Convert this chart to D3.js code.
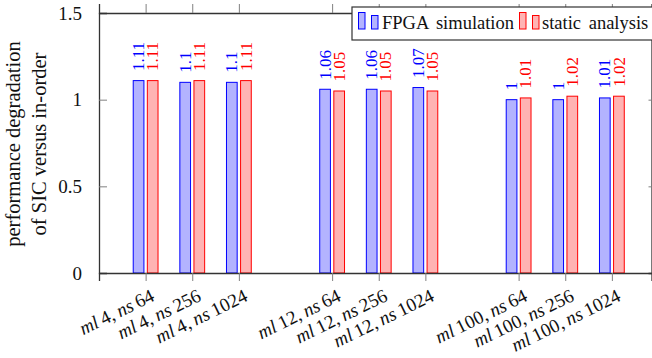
<!DOCTYPE html>
<html>
<head>
<meta charset="utf-8">
<script src="https://cdn.jsdelivr.net/npm/d3@7"></script>
<style>
  html, body { margin: 0; padding: 0; background: #fff; }
  svg { display: block; }
</style>
</head>
<body>
<div id="chart"></div>
<script>
// ---- data ----
const categories = [
  ["4", "64"], ["4", "256"], ["4", "1024"],
  ["12", "64"], ["12", "256"], ["12", "1024"],
  ["100", "64"], ["100", "256"], ["100", "1024"]
];
const fpgaSimulation = [1.11, 1.10, 1.10, 1.06, 1.06, 1.07, 1.00, 1.00, 1.01];
const staticAnalysis = [1.11, 1.11, 1.11, 1.05, 1.05, 1.05, 1.01, 1.02, 1.02];
const yTicks = [0, 0.5, 1, 1.5];
const seriesNames = ["FPGA simulation", "static analysis"];
const yLabelLines = ["performance degradation", "of SIC versus in-order"];

// ---- layout ----
const W = 652, H = 358;
const M = { left: 99, right: 651.5, top: 13, bottom: 273 };
const FONT = '"Liberation Serif"';
const blueStroke = "#0000ff", blueFill = "#b3b3ff";
const redStroke = "#ff0000", redFill = "#ffb3b3";
const axisColor = "#333";
const tickColor = "#808080";

const svg = d3.select("#chart").append("svg").attr("width", W).attr("height", H)
  .style("font-family", FONT);

// category position: groups of three separated by an empty slot
const pos = (i) => i + 1 + Math.floor(i / 3);
const positions = categories.map((c, i) => pos(i));
const x = d3.scaleLinear().domain([0, 11.85]).range([M.left, M.right]);
const y = d3.scaleLinear().domain([0, 1.5]).range([M.bottom, M.top]);

const barW = 10.7, barGap = 1.7;
const fmt = (v) => d3.format(".2~f")(v);

// bars
const series = [
  { vals: fpgaSimulation, stroke: blueStroke, fill: blueFill, off: -barGap - barW },
  { vals: staticAnalysis, stroke: redStroke, fill: redFill, off: barGap }
];
series.forEach(s => {
  svg.append("g").selectAll("rect").data(s.vals).join("rect")
    .attr("x", (d, i) => x(pos(i)) + s.off)
    .attr("y", d => y(d))
    .attr("width", barW)
    .attr("height", d => y(0) - y(d))
    .attr("fill", s.fill)
    .attr("stroke", s.stroke)
    .attr("stroke-width", 1);
  svg.append("g").selectAll("text").data(s.vals).join("text")
    .attr("transform", (d, i) => `translate(${x(pos(i)) + s.off + barW / 2},${y(d) - 9.5}) rotate(-90)`)
    .attr("text-anchor", "start")
    .attr("dy", "0.33em")
    .style("font-family", FONT)
    .attr("font-size", 17)
    .attr("fill", s.stroke)
    .text(d => fmt(d));
});

// axes via d3
const yAxisL = svg.append("g").attr("transform", `translate(${M.left},0)`)
  .call(d3.axisLeft(y).tickValues(yTicks).tickSize(-8).tickPadding(17).tickFormat(d3.format("~g")));
const yAxisR = svg.append("g").attr("transform", `translate(${M.right},0)`)
  .call(d3.axisRight(y).tickValues(yTicks).tickSize(-3).tickFormat(""));
const xAxisB = svg.append("g").attr("transform", `translate(0,${M.bottom})`)
  .call(d3.axisBottom(x).tickValues(positions).tickSize(8).tickFormat(""));
const xAxisT = svg.append("g").attr("transform", `translate(0,${M.top})`)
  .call(d3.axisTop(x).tickValues(positions).tickSize(9).tickFormat(""));

[yAxisL, yAxisR, xAxisB, xAxisT].forEach(g => {
  g.attr("font-family", null);
  g.select(".domain").attr("stroke", axisColor).attr("stroke-width", 1.3);
  g.selectAll(".tick line").attr("stroke", tickColor);
});
[yAxisL, yAxisR].forEach(g => g.selectAll(".tick").filter(d => d === 0 || d === 1.5).select("line").remove());
yAxisL.selectAll(".tick text").attr("font-size", 19).attr("fill", "#111")
  .style("font-family", FONT);

// rotated x tick labels
const xl = svg.append("g").selectAll("text").data(categories).join("text")
  .attr("transform", (d, i) => `translate(${x(pos(i)) + 10},${M.bottom + 27}) rotate(-26)`)
  .attr("text-anchor", "end")
  .style("font-family", FONT)
  .attr("font-size", 19)
  .attr("fill", "#111");
xl.append("tspan").attr("font-style", "italic").text("ml");
xl.append("tspan").text(d => "\u2009" + d[0] + ",\u2009");
xl.append("tspan").attr("font-style", "italic").text("ns");
xl.append("tspan").text(d => "\u2009" + d[1]);

// y label
const yl = svg.append("text")
  .attr("transform", `translate(0,${(M.top + M.bottom) / 2 + 1}) rotate(-90)`)
  .attr("text-anchor", "middle")
  .style("font-family", FONT)
  .attr("font-size", 20.5).attr("fill", "#111");
yl.selectAll("tspan").data(yLabelLines).join("tspan")
  .attr("x", 0).attr("y", (d, i) => 20 + i * 26)
  .text(d => d);

// legend
const lg = svg.append("g");
lg.append("rect").attr("x", 352).attr("y", 7).attr("width", 310).attr("height", 33)
  .attr("fill", "#fff").attr("stroke", axisColor).attr("stroke-width", 1.2);
const legendItems = [
  { name: seriesNames[0], stroke: blueStroke, fill: blueFill, x0: 358.5, tx: 382 },
  { name: seriesNames[1], stroke: redStroke, fill: redFill, x0: 519.5, tx: 542 }
];
legendItems.forEach(it => {
  lg.append("rect").attr("x", it.x0).attr("y", 12.5).attr("width", 6.5).attr("height", 16.5)
    .attr("fill", it.fill).attr("stroke", it.stroke);
  lg.append("rect").attr("x", it.x0 + 13).attr("y", 15.5).attr("width", 6.5).attr("height", 13.5)
    .attr("fill", it.fill).attr("stroke", it.stroke);
  lg.append("text").attr("x", it.tx).attr("y", 29)
    .style("font-family", FONT)
    .attr("font-size", 18.5).attr("fill", "#111")
    .attr("word-spacing", 3)
    .text(it.name);
});
</script>
</body>
</html>
